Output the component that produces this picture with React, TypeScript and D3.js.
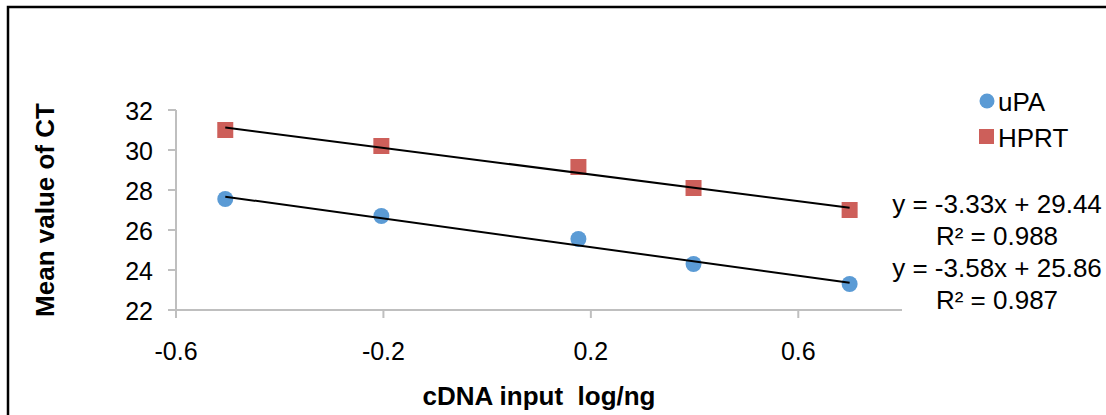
import React from "react";
import * as d3 from "d3";

const xValues = [-0.505, -0.204, 0.176, 0.398, 0.699];
const upaValues = [27.55, 26.7, 25.55, 24.3, 23.3];
const hprtValues = [31.0, 30.2, 29.15, 28.1, 27.0];
const xTicks = [-0.6, -0.2, 0.2, 0.6];
const yTicks = [22, 24, 26, 28, 30, 32];
const hprtFit = { slope: -3.33, intercept: 29.44, r2: "0.988" };
const upaFit = { slope: -3.58, intercept: 25.86, r2: "0.987" };

const W = 1106;
const H = 415;
const BLUE = "#5B9BD5";
const RED = "#CD5F5A";
const AXIS = "#BFBFBF";
const FONT = "Liberation Sans, Arial, sans-serif";

export default function App() {
  const x = d3.scaleLinear().domain([-0.6, 0.8]).range([176, 902]);
  const y = d3.scaleLinear().domain([22, 32]).range([310, 110]);
  const x0 = xValues[0];
  const x1 = xValues[xValues.length - 1];
  const fitLine = (f: { slope: number; intercept: number }) =>
    d3.line<number>().x((v) => x(v)).y((v) => y(f.slope * v + f.intercept))([x0, x1]) || "";

  return (
    <svg
      width={W}
      height={H}
      style={{ position: "absolute", left: 0, top: 0, background: "#fff" }}
      fontFamily={FONT}
    >
      <rect x={8} y={7} width={1110} height={420} fill="#fff" stroke="#000" strokeWidth={2.5} />
      {/* axes */}
      <line x1={176} x2={176} y1={y(32)} y2={y(22)} stroke={AXIS} strokeWidth={2} />
      <line x1={176} x2={x(0.8)} y1={y(22)} y2={y(22)} stroke={AXIS} strokeWidth={2} />
      {yTicks.map((t) => (
        <g key={"y" + t}>
          <line x1={168} x2={176} y1={y(t)} y2={y(t)} stroke={AXIS} strokeWidth={2} />
          <text x={153} y={y(t) + 10} fontSize={25} textAnchor="end" fill="#000">
            {t}
          </text>
        </g>
      ))}
      {xTicks.map((t) => (
        <g key={"x" + t}>
          <line x1={x(t)} x2={x(t)} y1={310} y2={318} stroke={AXIS} strokeWidth={2} />
          <text x={x(t)} y={360} fontSize={25} textAnchor="middle" fill="#000">
            {t.toFixed(1)}
          </text>
        </g>
      ))}
      <text
        x={539}
        y={405}
        fontSize={26}
        fontWeight="bold"
        textAnchor="middle"
        style={{ whiteSpace: "pre" }}
      >
        {"cDNA input  log/ng"}
      </text>
      <text
        transform={`translate(54,${210}) rotate(-90)`}
        fontSize={26}
        fontWeight="bold"
        textAnchor="middle"
      >
        Mean value of CT
      </text>
      {/* points */}
      {xValues.map((v, i) => (
        <rect key={"h" + i} x={x(v) - 8} y={y(hprtValues[i]) - 8} width={16} height={16} fill={RED} />
      ))}
      {xValues.map((v, i) => (
        <circle key={"u" + i} cx={x(v)} cy={y(upaValues[i])} r={8} fill={BLUE} />
      ))}
      {/* trendlines */}
      <path d={fitLine(hprtFit)} stroke="#000" strokeWidth={2} fill="none" />
      <path d={fitLine(upaFit)} stroke="#000" strokeWidth={2} fill="none" />
      {/* legend */}
      <circle cx={987} cy={101} r={7.5} fill={BLUE} />
      <text x={998} y={111} fontSize={26}>uPA</text>
      <rect x={979} y={129} width={15} height={15} fill={RED} />
      <text x={998} y={147} fontSize={26}>HPRT</text>
      {/* equations */}
      <g fontSize={26} textAnchor="middle">
        <text x={997} y={213}>y = {hprtFit.slope.toFixed(2)}x + {hprtFit.intercept.toFixed(2)}</text>
        <text x={997} y={245}>R² = {hprtFit.r2}</text>
        <text x={997} y={277}>y = {upaFit.slope.toFixed(2)}x + {upaFit.intercept.toFixed(2)}</text>
        <text x={997} y={309}>R² = {upaFit.r2}</text>
      </g>
    </svg>
  );
}
